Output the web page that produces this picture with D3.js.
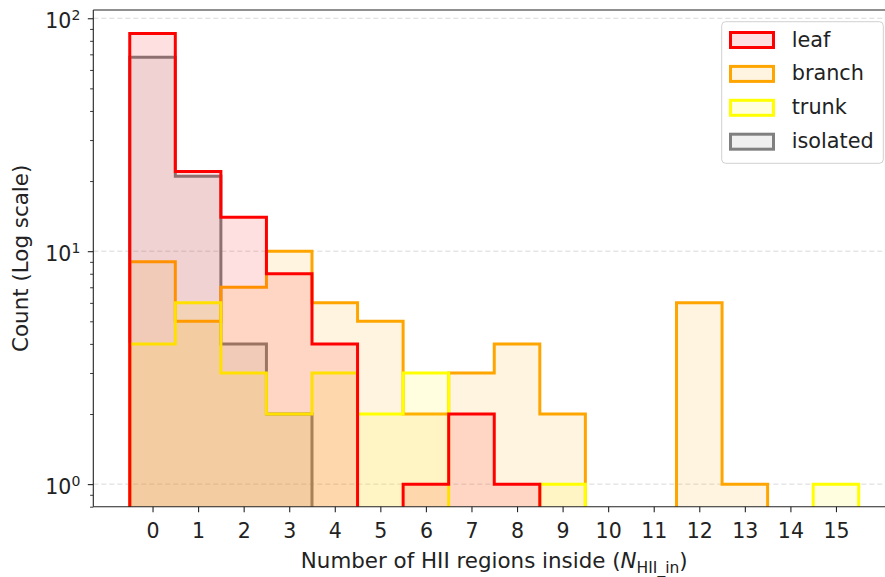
<!DOCTYPE html>
<html>
<head>
<meta charset="utf-8">
<script src="https://cdn.jsdelivr.net/npm/d3@7"></script>
<style>
  html, body { margin: 0; padding: 0; background: #fff; }
  svg { display: block; font-family: "DejaVu Sans", sans-serif; }
</style>
</head>
<body>
<svg id="chart" width="885" height="577"></svg>
<script>
// ---- data ----
const bins = [0, 1, 2, 3, 4, 5, 6, 7, 8, 9, 10, 11, 12, 13, 14, 15];
const leaf     = [86, 22, 14, 8, 4, 0, 1, 2, 1, 0, 0, 0, 0, 0, 0, 0];
const branch   = [9, 5, 7, 10, 6, 5, 2, 3, 4, 2, 0, 0, 6, 1, 0, 0];
const trunk    = [4, 6, 3, 2, 3, 2, 3, 0, 0, 1, 0, 0, 0, 0, 0, 1];
const isolated = [68, 21, 4, 2, 0, 0, 0, 0, 0, 0, 0, 0, 0, 0, 0, 0];
const seriesNames  = ["leaf", "branch", "trunk", "isolated"];
const seriesColors = ["#ff0000", "#ffa500", "#ffff00", "#808080"];
const xTicks = bins;
const yMajorTicks = [1, 10, 100];
const yMinorTicks = [0.8, 0.9, 2, 3, 4, 5, 6, 7, 8, 9, 20, 30, 40, 50, 60, 70, 80, 90];

const seriesData = { leaf, branch, trunk, isolated };
const drawOrder = ["isolated", "branch", "trunk", "leaf"];

// ---- layout ----
const L = 93.3, R = 895.2, T = 10, B = 506.7;
const svg = d3.select("#chart");

const x = d3.scaleLinear().domain([-1.3, 16.3]).range([L, R]);
const y = d3.scaleLog().domain([0.8, 108.5]).range([B, T]);

svg.append("defs").append("clipPath").attr("id", "plotclip")
  .append("rect").attr("x", L).attr("y", T).attr("width", R - L).attr("height", B - T);

// grid
const grid = svg.append("g");
yMajorTicks.forEach(v => {
  grid.append("line")
    .attr("x1", L).attr("x2", R)
    .attr("y1", y(v)).attr("y2", y(v))
    .attr("stroke", "#d9d9d9").attr("stroke-width", 1)
    .attr("stroke-dasharray", "5,3");
});

// histograms
const floorVal = 0.3;
function stepPoints(vals) {
  const pts = [[bins[0] - 0.5, floorVal]];
  vals.forEach((v, i) => {
    const vv = v > 0 ? v : floorVal;
    pts.push([bins[i] - 0.5, vv]);
    pts.push([bins[i] + 0.5, vv]);
  });
  pts.push([bins[bins.length - 1] + 0.5, floorVal]);
  return pts;
}
const line = d3.line().x(d => x(d[0])).y(d => y(d[1]));
const plot = svg.append("g").attr("clip-path", "url(#plotclip)");
drawOrder.forEach(name => {
  const color = seriesColors[seriesNames.indexOf(name)];
  const pts = stepPoints(seriesData[name]);
  plot.append("path")
    .attr("d", line(pts) + "Z")
    .attr("fill", color).attr("fill-opacity", 0.12)
    .attr("stroke", color).attr("stroke-width", 3)
    .attr("stroke-linejoin", "miter");
});

// axes
const xAxis = d3.axisBottom(x).tickValues(xTicks).tickSize(5.5).tickPadding(4).tickFormat(d3.format("d"));
const gx = svg.append("g").attr("transform", `translate(0,${B})`).call(xAxis);
gx.select(".domain").remove();
gx.selectAll(".tick line").attr("stroke", "#222").attr("stroke-width", 1.1);
gx.selectAll(".tick text").attr("font-size", 20.5).attr("fill", "#222")
  .attr("font-family", "DejaVu Sans").attr("dy", null).attr("y", 31);

const yAxisMinor = d3.axisLeft(y).tickValues(yMinorTicks).tickSize(3.2).tickFormat("");
const gyMinor = svg.append("g").attr("transform", `translate(${L},0)`).call(yAxisMinor);
gyMinor.select(".domain").remove();
gyMinor.selectAll(".tick line").attr("stroke", "#222").attr("stroke-width", 0.9);

const yAxis = d3.axisLeft(y).tickValues(yMajorTicks).tickSize(5.5).tickFormat("");
const gy = svg.append("g").attr("transform", `translate(${L},0)`).call(yAxis);
gy.select(".domain").remove();
gy.selectAll(".tick line").attr("stroke", "#222").attr("stroke-width", 1.1);
gy.selectAll(".tick").each(function(d) {
  const t = d3.select(this).append("text")
    .attr("x", -13).attr("y", 9.5)
    .attr("text-anchor", "end")
    .attr("fill", "#222").attr("font-size", 20.5).attr("font-family", "DejaVu Sans");
  t.append("tspan").text("10");
  t.append("tspan").attr("font-size", 14).attr("dy", -8).text(String(Math.round(Math.log10(d))));
});

// spines
const spines = svg.append("g").attr("stroke", "#222").attr("stroke-width", 1.1).attr("fill", "none");
spines.append("line").attr("x1", L).attr("x2", L).attr("y1", T).attr("y2", B);
spines.append("line").attr("x1", L).attr("x2", R).attr("y1", B).attr("y2", B);
spines.append("line").attr("x1", L).attr("x2", R).attr("y1", T).attr("y2", T);
spines.append("line").attr("x1", R).attr("x2", R).attr("y1", T).attr("y2", B);

// axis labels
const xl = svg.append("text")
  .attr("x", (L + R) / 2).attr("y", 568)
  .attr("text-anchor", "middle").attr("font-size", 21.4).attr("fill", "#222");
xl.append("tspan").text("Number of HII regions inside (");
xl.append("tspan").attr("font-style", "italic").text("N");
xl.append("tspan").attr("font-size", 15.5).attr("dy", 4.5).text("HII_in");
xl.append("tspan").attr("dy", -4.5).text(")");

svg.append("text")
  .attr("transform", `translate(27.5,${(T + B) / 2}) rotate(-90)`)
  .attr("text-anchor", "middle").attr("font-size", 21.4).attr("fill", "#222")
  .text("Count (Log scale)");

// legend
const lg = svg.append("g");
lg.append("rect")
  .attr("x", 721.7).attr("y", 21.7).attr("width", 161.6).attr("height", 141.6)
  .attr("rx", 4).attr("ry", 4)
  .attr("fill", "#fff").attr("fill-opacity", 0.8)
  .attr("stroke", "#d0d0d0").attr("stroke-width", 1);
const rowY = d3.scaleLinear().domain([0, 3]).range([40, 141.7]);
seriesNames.forEach((name, i) => {
  const cy = rowY(i);
  const color = seriesColors[i];
  lg.append("rect")
    .attr("x", 730.5).attr("y", cy - 7.5).attr("width", 43).attr("height", 15)
    .attr("fill", color).attr("fill-opacity", 0.12)
    .attr("stroke", color).attr("stroke-width", 3);
  lg.append("text")
    .attr("x", 791.7).attr("y", cy + 6.5)
    .attr("font-size", 20.8).attr("fill", "#222")
    .text(name);
});
</script>
</body>
</html>
